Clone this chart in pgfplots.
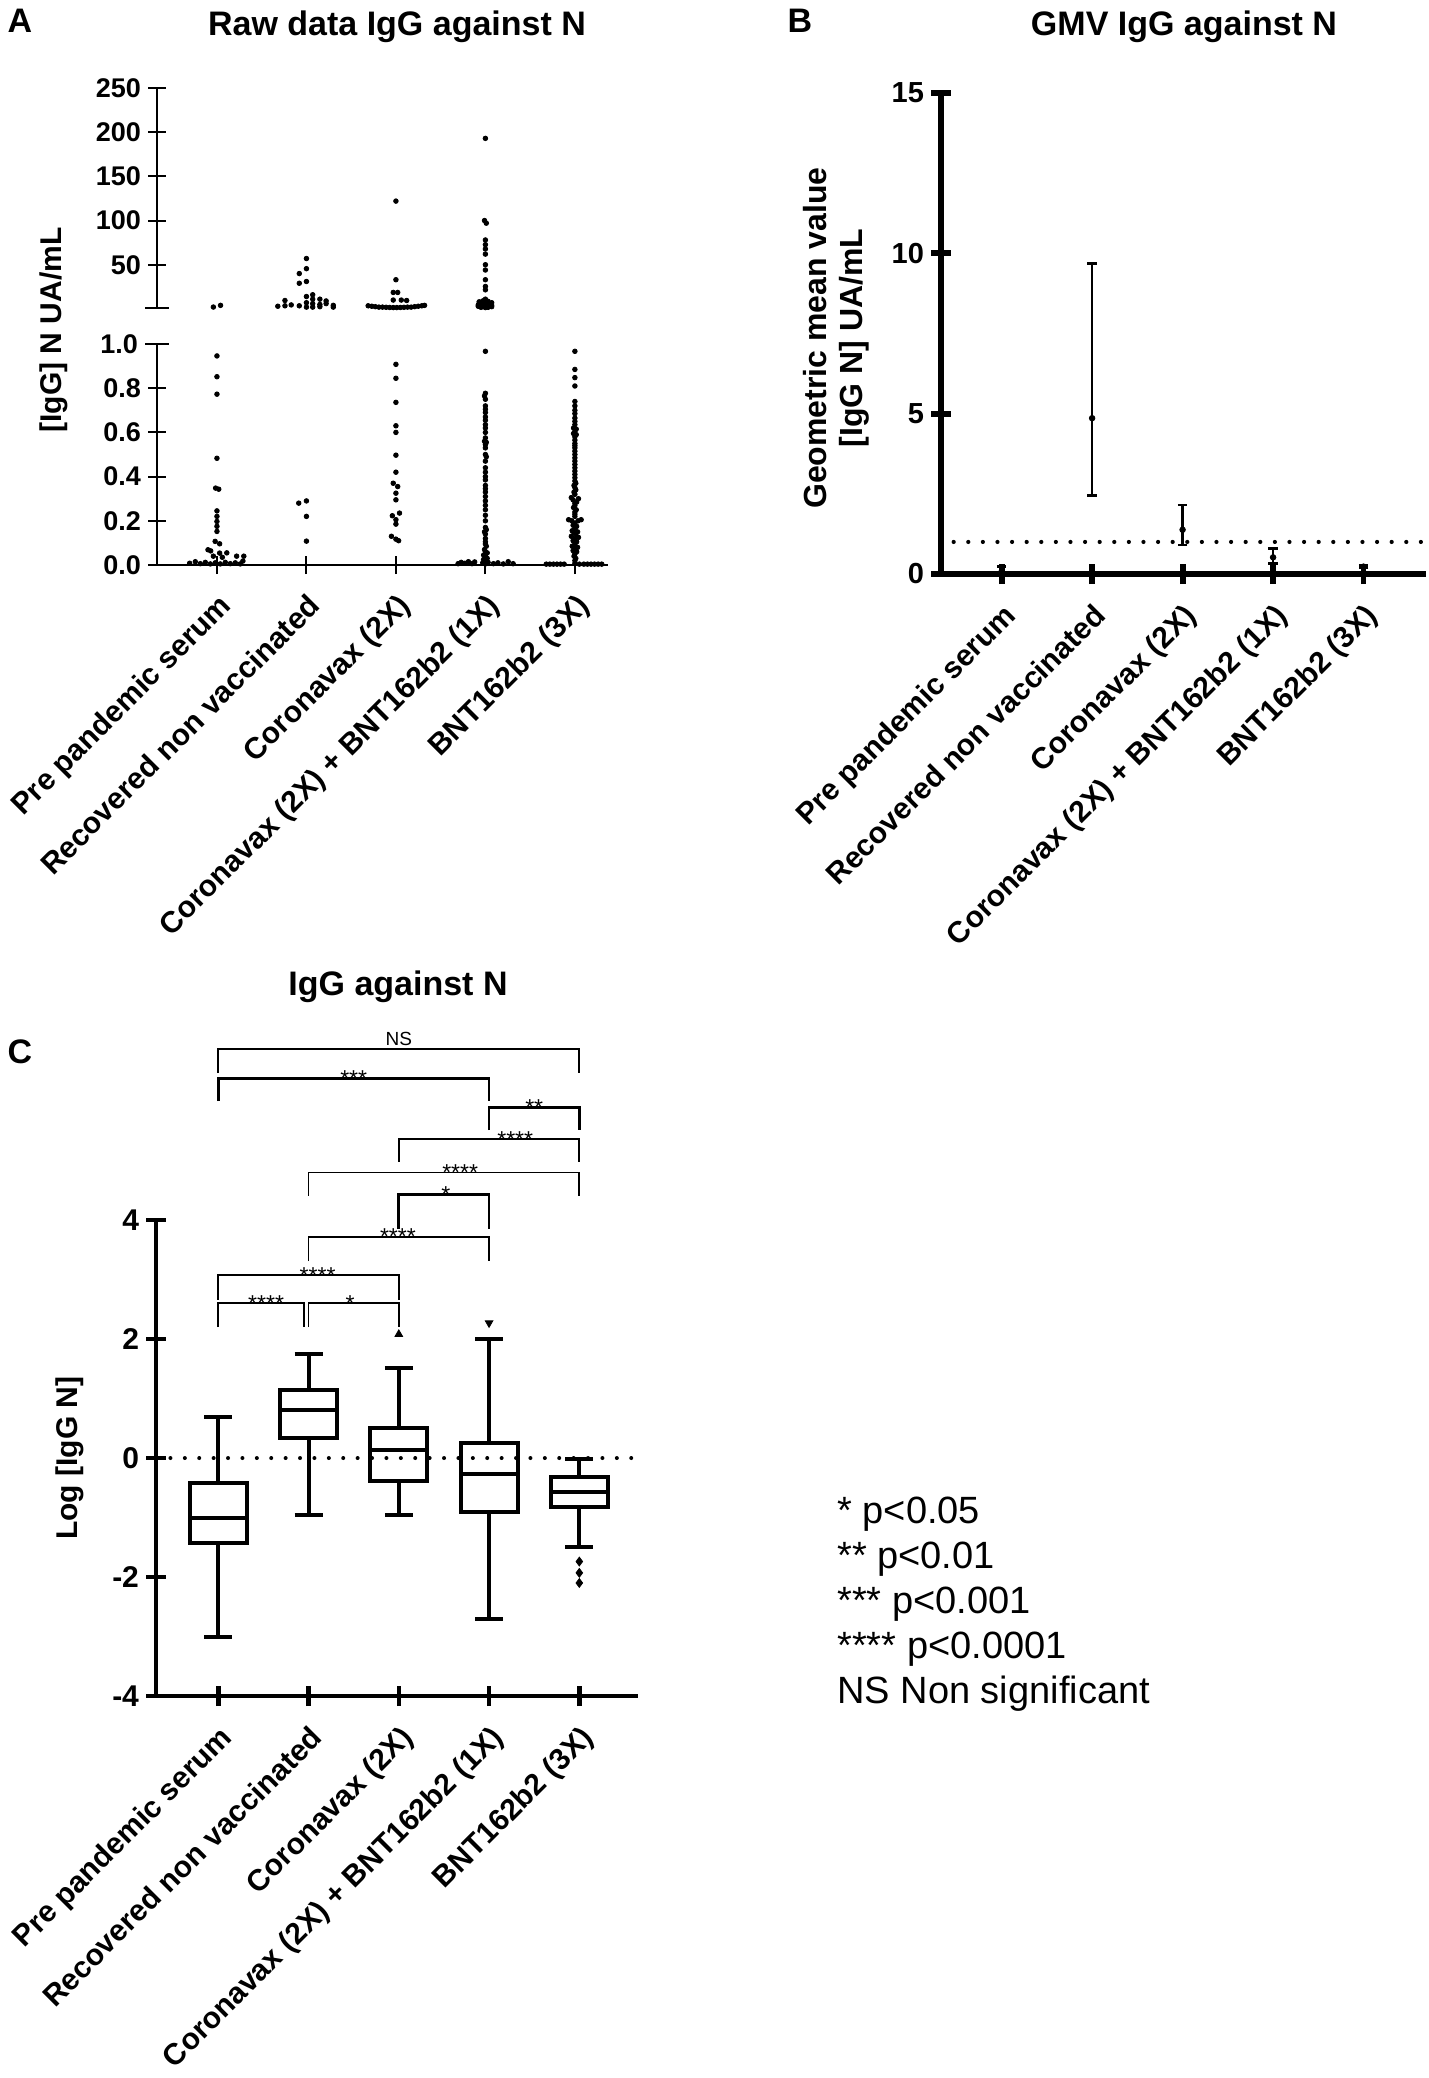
\documentclass[border=0pt]{standalone}
\usepackage{fontspec}
\setmainfont{Liberation Sans}
\usepackage{pgfplots}
\pgfplotsset{compat=1.18}
\usepgfplotslibrary{statistics}

\pgfplotsset{
  myaxis/.style={
    scale only axis, anchor=south west, clip=false,
    tick align=outside,
    /pgf/number format/assume math mode=true,
    tick label style={font=\bfseries\fontsize{14}{14}\selectfont},
  },
  noarrows/.style={axis line style={-}, every outer x axis line/.append style={-}, every outer y axis line/.append style={-}},
  catlabels/.style={
    xtick={0,1,2,3,4},
    xticklabels={Pre pandemic serum, Recovered non vaccinated, Coronavax (2X), Coronavax (2X) + BNT162b2 (1X), BNT162b2 (3X)},
    xticklabel shift=6pt,
    x tick label style={rotate=45, anchor=north east, font=\bfseries\fontsize{15}{15}\selectfont, inner sep=2pt},
  },
  bp/.style={black, line width=2pt, boxplot prepared={draw direction=y, box extend=0.63, whisker extend=0.31, #1}},
}
\tikzset{
  star/.style={anchor=base, yshift=-4pt, font=\fontsize{11.5}{11.5}\selectfont, inner sep=0pt},
  brk/.style={black, line width=0.9pt},
}

\begin{document}
\begin{tikzpicture}
\path[use as bounding box] (0,0) rectangle (714.5pt,-1039pt);

% ---------------- Panel A ----------------
\node[font=\bfseries\fontsize{17}{17}\selectfont] at (10pt,-10.5pt) {A};
\node[font=\bfseries\fontsize{17}{17}\selectfont] at (198.5pt,-13.5pt) {Raw data IgG against N};
\node[font=\bfseries\fontsize{15}{15}\selectfont, rotate=90] at (27pt,-165pt) {[IgG] N UA/mL};

% lower segment
\begin{axis}[myaxis, at={(78.5pt,-282.5pt)}, width=225.5pt, height=110.5pt,
  xmin=-0.67, xmax=4.37, ymin=0, ymax=1,
  axis lines=left, noarrows, axis line style={line width=1pt},
  catlabels,
  major tick length=9pt, tick style={black, line width=1pt},
  y tick label style={font=\bfseries\fontsize{13.5}{13.5}\selectfont},
  ytick={0,0.2,0.4,0.6,0.8},
  y tick label style={/pgf/number format/.cd, fixed, fixed zerofill, precision=1, /tikz/.cd},
  extra y ticks={1}, extra y tick labels={1.0},
  extra y tick style={tick align=center, major tick length=12pt},
]
\addplot[only marks, mark=*, mark size=1.15pt, black] table {
x y
0 0.946
0 0.852
0 0.773
0 0.483
-0.015 0.348
0.02 0.343
0 0.245
0 0.22
0 0.197
0 0.175
0 0.152
-0.02 0.107
0.03 0.096
-0.1 0.069
-0.07 0.064
0.03 0.054
0.11 0.055
-0.04 0.04
0.06 0.035
0.22 0.04
0.3 0.04
-0.305 0.008
-0.242 0.015
-0.186 0.006
-0.13 0.012
-0.074 0.005
-0.019 0.01
0.037 0.005
0.093 0.012
0.149 0.006
0.205 0.01
0.26 0.005
0.29 0.018
0.914 0.28
1 0.29
1 0.22
1 0.108
2 0.908
2 0.845
2 0.736
2 0.63
2 0.6
2 0.497
2 0.42
1.97 0.37
2.02 0.355
2 0.325
2 0.295
2.04 0.235
1.96 0.223
2 0.205
2 0.185
1.95 0.13
2 0.117
2.03 0.11
3 0.967
3 0.777
2.99 0.765
3 0.75
3 0.72
3 0.705
3 0.69
3 0.67
3 0.655
3 0.635
3 0.62
3 0.6
3 0.575
2.99 0.56
3.01 0.555
3 0.545
3 0.53
3 0.5
3.01 0.49
3 0.47
3 0.44
3 0.42
3 0.4
3 0.385
3 0.36
3 0.345
3 0.33
3 0.31
3 0.29
3 0.27
3 0.25
3 0.225
3 0.2
3 0.17
3.01 0.16
2.99 0.15
3 0.14
3 0.12
3 0.105
3 0.095
3.01 0.085
2.99 0.07
3 0.06
3.02 0.055
2.98 0.045
3 0.04
3.02 0.03
2.98 0.025
3 0.02
2.97 0.01
3.03 0.012
3 0.005
2.695 0.006
2.73 0.012
2.77 0.008
2.81 0.015
2.85 0.006
2.88 0.014
3.09 0.006
3.14 0.01
3.2 0.005
3.255 0.015
3.31 0.006
4 0.967
4 0.885
4 0.848
4 0.81
4 0.74
4 0.72
4 0.70
4 0.685
4 0.665
4 0.65
4 0.635
3.985 0.62
4.015 0.615
4 0.605
3.985 0.595
4.015 0.59
4 0.58
4 0.565
4 0.55
4 0.54
4 0.53
4 0.515
4 0.50
4 0.485
4 0.47
4 0.455
4 0.44
4 0.425
4 0.41
4 0.395
4 0.38
4.01 0.37
3.99 0.36
4 0.35
4.01 0.34
3.99 0.33
4 0.32
3.96 0.305
4.04 0.3
3.98 0.295
4.02 0.285
4 0.28
4 0.27
3.985 0.26
4.015 0.25
4 0.24
4 0.23
4 0.22
3.93 0.205
3.965 0.2
4.035 0.2
4.07 0.205
4 0.19
3.98 0.18
4.02 0.175
4 0.165
3.97 0.155
4.03 0.15
3.99 0.145
4.01 0.14
3.96 0.13
4.04 0.125
4 0.12
3.98 0.11
4.02 0.105
4 0.095
3.97 0.085
4.03 0.08
4 0.075
3.98 0.065
4.02 0.06
4 0.05
3.99 0.04
4.01 0.03
4 0.02
4 0.008
3.68 0.004
3.72 0.004
3.76 0.004
3.8 0.004
3.84 0.004
3.88 0.004
4.05 0.004
4.1 0.004
4.14 0.004
4.18 0.004
4.22 0.004
4.26 0.004
4.3 0.004
};
\end{axis}

% upper segment
\begin{axis}[myaxis, at={(78.5pt,-154pt)}, width=225.5pt, height=110pt,
  xmin=-0.67, xmax=4.37, ymin=1, ymax=250,
  axis x line=none, axis y line=left, noarrows, axis line style={line width=1pt},
  xtick=\empty,
  major tick length=9pt, tick style={black, line width=1pt},
  tick label style={font=\bfseries\fontsize{13.5}{13.5}\selectfont},
  ytick={50,100,150,200,250},
  extra y ticks={1}, extra y tick labels={},
  extra y tick style={tick align=center, major tick length=12pt},
]
\addplot[only marks, mark=*, mark size=1.15pt, black] table {
x y
-0.04 2.1
0.04 4
1 57
1 45.5
0.92 40
1 31
0.92 29
1.07 16
1 14
0.76 9.5
1.07 11
1.15 11
1.22 9
0.68 3
0.76 3.5
0.83 4.5
0.92 3.5
1 7
1 2
1.07 6
1.07 2
1.15 5
1.15 2.5
1.22 6
1.3 4
1.3 2
2 122
2 33
1.97 18.6
2.02 18.6
1.97 10
2.06 10
2.12 9.5
1.69 3.5
1.73 3
1.77 2.5
1.81 2
1.85 2
1.89 1.8
1.93 1.6
1.97 1.5
2.01 1.5
2.05 1.6
2.09 1.8
2.13 2
2.17 2
2.21 2.5
2.25 3
2.29 3.5
2.32 4
3 193
2.99 100
3.01 97
3 78
3 72.7
3 67.8
3 62
3 50
3 44
3 33
3 25.4
3 21.6
3 11
3 9.5
2.93 8
2.97 9
3.03 8.5
3.07 7
2.94 6
3 6
3.06 5.5
2.92 4.5
2.97 4.5
3.02 4
3.07 4
2.92 3
2.97 2.5
3.02 3
3.07 2.5
2.95 1.8
3.03 1.8
3 1.5
};
\end{axis}

% ---------------- Panel B ----------------
\node[font=\bfseries\fontsize{17}{17}\selectfont] at (400pt,-10.5pt) {B};
\node[font=\bfseries\fontsize{17}{17}\selectfont] at (592pt,-13.5pt) {GMV IgG against N};
\node[font=\bfseries\fontsize{16}{18}\selectfont, rotate=90, align=center] at (418pt,-169pt) {Geometric mean value\\{[IgG N] UA/mL}};

\begin{axis}[myaxis, at={(470.5pt,-287pt)}, width=242.5pt, height=240.5pt,
  xmin=-0.67, xmax=4.69, ymin=0, ymax=15,
  axis lines=left, noarrows, axis line style={line width=2.9pt},
  catlabels,
  major tick length=10pt, tick style={black, line width=2.9pt},
  y tick label style={font=\bfseries\fontsize{14.5}{14.5}\selectfont},
  ytick={0,5,10,15},
]
\addplot[black, line width=2.1pt, dash pattern=on 0pt off 7.3pt, line cap=round] coordinates {(-0.53,1) (4.69,1)};
\addplot[black, only marks, mark=*, mark size=1.4pt,
  error bars/.cd, y dir=both, y explicit,
  error bar style={line width=1.2pt},
  error mark options={rotate=90, mark size=2.4pt, line width=1.2pt}]
coordinates {
(0,0.08) += (0,0.15) -= (0,0.08)
(1,4.86) += (0,4.82) -= (0,2.41)
(2,1.38) += (0,0.77) -= (0,0.48)
(3,0.52) += (0,0.28) -= (0,0.19)
(4,0.23) += (0,0.03) -= (0,0.03)
};
\end{axis}

% ---------------- Panel C ----------------
\node[font=\bfseries\fontsize{17}{17}\selectfont] at (10pt,-526pt) {C};
\node[font=\bfseries\fontsize{17}{17}\selectfont] at (199pt,-493.5pt) {IgG against N};
\node[font=\bfseries\fontsize{15}{15}\selectfont, rotate=90] at (35pt,-729pt) {Log [IgG N]};

\begin{axis}[myaxis, at={(78pt,-848pt)}, width=241pt, height=238pt,
  xmin=-0.69, xmax=4.65, ymin=-4, ymax=4,
  axis lines=left, noarrows, axis line style={line width=2.3pt},
  catlabels,
  major tick length=10pt, tick style={black, line width=2.3pt},
  y tick label style={font=\bfseries\fontsize{15}{15}\selectfont},
  ytick={-4,-2,0,2,4},
]
\addplot[black, line width=2pt, dash pattern=on 0pt off 7.2pt, line cap=round] coordinates {(-0.53,0) (4.65,0)};
\addplot[bp={draw position=0, lower whisker=-3.0, lower quartile=-1.42, median=-1.0, upper quartile=-0.42, upper whisker=0.69}] coordinates {};
\addplot[bp={draw position=1, lower whisker=-0.96, lower quartile=0.33, median=0.8, upper quartile=1.14, upper whisker=1.75}] coordinates {};
\addplot[bp={draw position=2, lower whisker=-0.96, lower quartile=-0.39, median=0.14, upper quartile=0.51, upper whisker=1.52}] coordinates {};
\addplot[bp={draw position=3, lower whisker=-2.71, lower quartile=-0.91, median=-0.27, upper quartile=0.26, upper whisker=2.0}] coordinates {};
\addplot[bp={draw position=4, lower whisker=-1.5, lower quartile=-0.82, median=-0.57, upper quartile=-0.32, upper whisker=-0.02}] coordinates {};
\addplot[only marks, black, mark=triangle*, mark size=2.2pt] coordinates {(2,2.08)};
\addplot[only marks, black, mark=triangle*, mark size=2.2pt, mark options={rotate=180}] coordinates {(3,2.27)};
\addplot[only marks, black, mark=diamond*, mark size=2.2pt] coordinates {(4,-1.74) (4,-1.93) (4,-2.1)};
% significance brackets
\addplot[brk] coordinates {(0,6.47) (0,6.87) (4,6.87) (4,6.47)};
\addplot[brk, line width=1.4pt] coordinates {(0,6.0) (0,6.38) (3,6.38) (3,6.0)};
\addplot[brk, line width=1.4pt] coordinates {(3,5.51) (3,5.89) (4,5.89) (4,5.51)};
\addplot[brk] coordinates {(2,4.98) (2,5.36) (4,5.36) (4,4.98)};
\addplot[brk] coordinates {(1,4.41) (1,4.80) (4,4.80) (4,4.41)};
\addplot[brk, line width=1.4pt] coordinates {(2,3.85) (2,4.43) (3,4.43) (3,3.85)};
\addplot[brk] coordinates {(1,3.31) (1,3.72) (3,3.72) (3,3.31)};
\addplot[brk] coordinates {(0,2.66) (0,3.07) (2,3.07) (2,2.66)};
\addplot[brk] coordinates {(0,2.2) (0,2.6) (0.95,2.6) (0.95,2.2)};
\addplot[brk] coordinates {(1,2.2) (1,2.6) (2,2.6) (2,2.2)};
\node[anchor=base, yshift=2pt, font=\fontsize{9.5}{9.5}\selectfont] at (axis cs:2,6.87) {NS};
\node[star] at (axis cs:1.5,6.38) {***};
\node[star] at (axis cs:3.5,5.89) {**};
\node[star] at (axis cs:3.29,5.36) {****};
\node[star] at (axis cs:2.68,4.80) {****};
\node[star] at (axis cs:2.52,4.43) {*};
\node[star] at (axis cs:1.99,3.72) {****};
\node[star] at (axis cs:1.1,3.07) {****};
\node[star] at (axis cs:0.53,2.6) {****};
\node[star] at (axis cs:1.46,2.6) {*};
\end{axis}

% legend text
\begin{scope}[every node/.style={anchor=base west, font=\fontsize{19}{19}\selectfont, inner sep=0pt}]
\node at (418.5pt,-761.5pt) {* p<0.05};
\node at (418.5pt,-784pt) {** p<0.01};
\node at (418.5pt,-806.5pt) {*** p<0.001};
\node at (418.5pt,-829pt) {**** p<0.0001};
\node at (418.5pt,-851.5pt) {NS Non significant};
\end{scope}
\end{tikzpicture}
\end{document}
